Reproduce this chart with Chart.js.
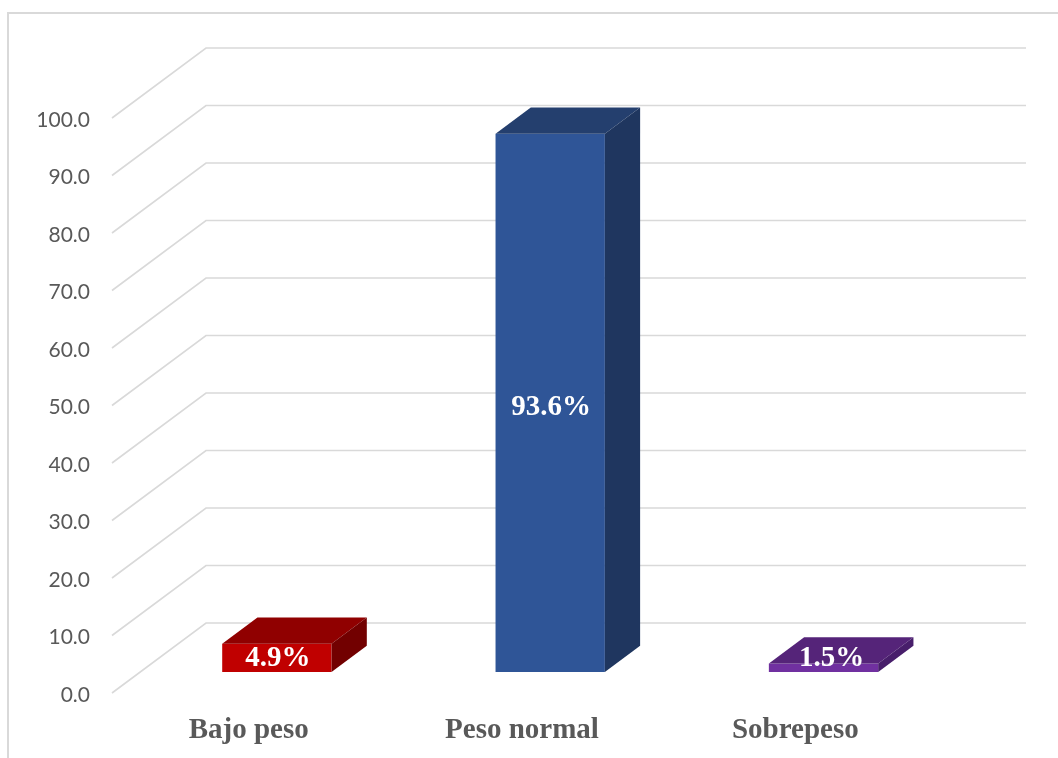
<!DOCTYPE html>
<html>
<head>
<meta charset="utf-8">
<script src="https://cdn.jsdelivr.net/npm/chart.js@4/dist/chart.umd.min.js"></script>
<style>
  html, body { margin: 0; padding: 0; background: #fff; }
  #wrap { position: relative; width: 1058px; height: 758px; overflow: hidden; }
  #frame { position: absolute; left: 7px; top: 12px; width: 1100px; height: 800px;
           border-left: 2px solid #D9D9D9; border-top: 2px solid #D9D9D9; box-sizing: border-box; }
  canvas { position: absolute; left: 0; top: 0; }
</style>
</head>
<body>
<div id="wrap">
  <div id="frame"></div>
  <canvas id="c" width="1058" height="758"></canvas>
</div>
<script>
// ---- data ----
const categories = ['Bajo peso', 'Peso normal', 'Sobrepeso'];
const values = [4.9, 93.6, 1.5];
const yMin = 0;
const yMax = 100;
const yStep = 10;

// ---- colours ----
const frontColors = ['#C00000', '#2F5597', '#7030A0'];
const topColors   = ['#900000', '#243F6E', '#552479'];
const sideColors  = ['#720000', '#1F365F', '#481E6B'];

// ---- 3D look (styles) ----
const DEPTH_DX = 94, DEPTH_DY = -70;   // full floor depth projection
const BAR_FRONT = 0.30;                // depth of bars' front face
const BAR_DEPTH = 0.375;               // thickness of bars

const threeD = {
  id: 'threeD',
  beforeDatasetsDraw(chart) {
    const { ctx, chartArea: a, scales: { y } } = chart;
    ctx.save();
    ctx.strokeStyle = '#D9D9D9';
    ctx.lineWidth = 1.6;
    y.ticks.forEach(t => {
      const py = y.getPixelForValue(t.value);
      ctx.beginPath();
      ctx.moveTo(a.left, py);
      ctx.lineTo(a.left + DEPTH_DX, py + DEPTH_DY);
      ctx.lineTo(a.right + DEPTH_DX, py + DEPTH_DY);
      ctx.stroke();
    });
    ctx.restore();
    ctx.save();
    ctx.translate(DEPTH_DX * BAR_FRONT, DEPTH_DY * BAR_FRONT);
  },
  afterDatasetsDraw(chart) {
    const { ctx } = chart;
    const meta = chart.getDatasetMeta(0);
    const bx = DEPTH_DX * BAR_DEPTH, by = DEPTH_DY * BAR_DEPTH;
    const boxes = [];
    meta.data.forEach((bar, i) => {
      const { x, y, base, width } = bar.getProps(['x', 'y', 'base', 'width'], true);
      const l = x - width / 2, r = x + width / 2;
      // top face
      ctx.fillStyle = topColors[i];
      ctx.beginPath();
      ctx.moveTo(l, y); ctx.lineTo(r, y); ctx.lineTo(r + bx, y + by); ctx.lineTo(l + bx, y + by);
      ctx.closePath(); ctx.fill();
      // side face
      ctx.fillStyle = sideColors[i];
      ctx.beginPath();
      ctx.moveTo(r, y); ctx.lineTo(r + bx, y + by); ctx.lineTo(r + bx, base + by); ctx.lineTo(r, base);
      ctx.closePath(); ctx.fill();
      boxes.push({ x, y, base });
    });
    ctx.restore();
    // value labels
    const ox = DEPTH_DX * BAR_FRONT, oy = DEPTH_DY * BAR_FRONT;
    ctx.save();
    ctx.fillStyle = '#FFFFFF';
    ctx.font = 'bold 29px "Liberation Serif", "Times New Roman", serif';
    ctx.textAlign = 'center';
    ctx.textBaseline = 'middle';
    boxes.forEach((b, i) => {
      const h = b.base - b.y;
      const ly = Math.min((b.y + b.base) / 2 + 5, b.base - 13);
      const lx = b.x + (h < 20 ? 8 : 1);
      ctx.fillText(values[i].toFixed(1) + '%', lx + ox, ly + oy);
    });
    ctx.restore();
  }
};

new Chart(document.getElementById('c'), {
  type: 'bar',
  data: {
    labels: categories,
    datasets: [{
      data: values,
      backgroundColor: frontColors,
      borderWidth: 0,
      categoryPercentage: 1.0,
      barPercentage: 0.40,
      clip: false
    }]
  },
  options: {
    responsive: false,
    animation: false,
    devicePixelRatio: 1,
    layout: { padding: { left: 0, right: 126, top: 118, bottom: 0 } },
    plugins: { legend: { display: false }, tooltip: { enabled: false }, title: { display: false } },
    scales: {
      x: {
        grid: { display: false, drawTicks: false },
        border: { display: false },
        ticks: {
          color: '#595959',
          font: { family: '"Liberation Serif", "Times New Roman", serif', size: 29, weight: 'bold' },
          padding: 20,
          maxRotation: 0
        },
        afterFit(scale) { scale.height = 65; }
      },
      y: {
        min: yMin,
        max: yMax,
        grid: { display: false, drawTicks: false },
        border: { display: false },
        ticks: {
          stepSize: yStep,
          color: '#595959',
          font: { family: 'Lato, "Liberation Sans", sans-serif', size: 21 },
          padding: 22,
          labelOffset: 2,
          callback: v => Number(v).toFixed(1)
        },
        afterFit(scale) { scale.width = 112; }
      }
    }
  },
  plugins: [threeD]
});
</script>
</body>
</html>
